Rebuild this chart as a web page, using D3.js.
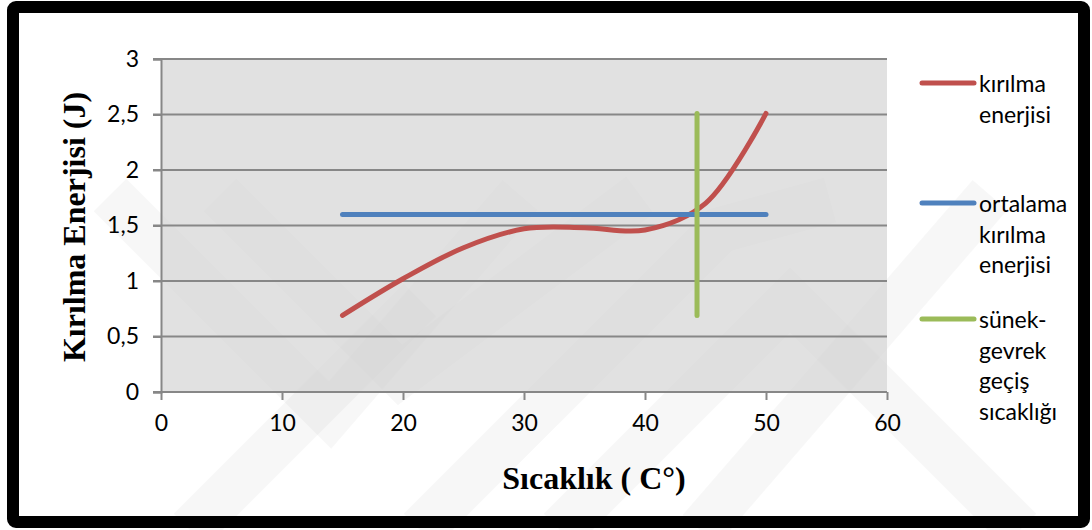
<html>
<head>
<meta charset="utf-8">
<style>
  body { margin: 0; background: #fff; }
  .tick text { font-family: Lato, "Open Sans", sans-serif; font-size: 23px; fill: #000; }
  .legend text { font-family: Lato, "Open Sans", sans-serif; font-size: 23px; fill: #000; }
  .title { font-family: "Liberation Serif", "Times New Roman", serif; font-weight: bold; font-size: 32px; fill: #000; }
</style>
</head>
<body>
<script src="https://cdn.jsdelivr.net/npm/d3@7"></script>
<script>
// data
var temps    = [15, 20, 25, 30, 35, 40, 45, 50];
var energy   = [0.69, 1.02, 1.30, 1.47, 1.48, 1.46, 1.70, 2.51];
var meanTemps  = [15, 50];
var meanEnergy = [1.6, 1.6];
var transTemps  = [44.3, 44.3];
var transEnergy = [0.69, 2.51];
var xTicks = [0, 10, 20, 30, 40, 50, 60];
var yTicks = [0, 0.5, 1, 1.5, 2, 2.5, 3];
var seriesNames = [["kırılma", "enerjisi"], ["ortalama", "kırılma", "enerjisi"], ["sünek-", "gevrek", "geçiş", "sıcaklığı"]];
var colors = ["#c0504d", "#4f81bd", "#9bbb59"];

var svg = d3.select("body").append("svg")
  .attr("width", 1092)
  .attr("height", 530);

// watermark, very faint
var wm = svg.append("g").attr("fill", "none").attr("stroke", "#000").attr("stroke-opacity", 0.03)
  .attr("stroke-width", 46).attr("stroke-linejoin", "miter");
[
  [[110, 195], [330, 415], [520, 195]],
  [[220, 195], [400, 375], [640, 195]],
  [[190, 530], [420, 300]],
  [[560, 530], [790, 300], [1020, 530]],
  [[420, 530], [720, 230], [830, 200]],
  [[700, 530], [990, 195]]
].forEach(function(p) { wm.append("path").attr("d", d3.line()(p)); });

var x = d3.scaleLinear().domain([0, 60]).range([161, 887]);
var y = d3.scaleLinear().domain([0, 3]).range([392, 59]);

// plot background
svg.append("rect")
  .attr("x", x(0)).attr("y", y(3))
  .attr("width", x(60) - x(0)).attr("height", y(0) - y(3))
  .attr("fill", "#d4d4d4").attr("fill-opacity", 0.7);

// gridlines
svg.append("g").selectAll("line")
  .data(yTicks).enter().append("line")
  .attr("x1", x(0) - 8).attr("x2", x(60))
  .attr("y1", function(d) { return y(d); }).attr("y2", function(d) { return y(d); })
  .attr("stroke", "#878787").attr("stroke-width", 2);

var fmt = function(d) { return String(d).replace(".", ","); };

var yAxis = svg.append("g")
  .attr("transform", "translate(" + x(0) + ",0)")
  .call(d3.axisLeft(y).tickValues(yTicks).tickSize(8).tickPadding(14).tickFormat(fmt));
var xAxis = svg.append("g")
  .attr("transform", "translate(0," + y(0) + ")")
  .call(d3.axisBottom(x).tickValues(xTicks).tickSize(8).tickPadding(15).tickFormat(fmt));
[yAxis, xAxis].forEach(function(g) {
  g.selectAll("path.domain").attr("stroke", "#878787").attr("stroke-width", 2);
  g.selectAll(".tick line").attr("stroke", "#878787").attr("stroke-width", 2);
  g.attr("font-family", null).attr("font-size", null);
});
xAxis.select("path.domain").remove();

// series
var line = d3.line()
  .x(function(d) { return x(d[0]); })
  .y(function(d) { return y(d[1]); });

svg.append("path")
  .datum(d3.zip(temps, energy))
  .attr("d", line.curve(d3.curveCatmullRom.alpha(0.5)))
  .attr("fill", "none").attr("stroke", colors[0]).attr("stroke-width", 5).attr("stroke-linecap", "round");

line.curve(d3.curveLinear);
svg.append("path")
  .datum(d3.zip(meanTemps, meanEnergy))
  .attr("d", line)
  .attr("fill", "none").attr("stroke", colors[1]).attr("stroke-width", 5).attr("stroke-linecap", "round");

svg.append("path")
  .datum(d3.zip(transTemps, transEnergy))
  .attr("d", line)
  .attr("fill", "none").attr("stroke", colors[2]).attr("stroke-width", 5).attr("stroke-linecap", "round");

// legend
var legendTop = [92, 212, 328];
var legend = svg.append("g").attr("class", "legend");
seriesNames.forEach(function(names, i) {
  legend.append("line")
    .attr("x1", 922).attr("x2", 974)
    .attr("y1", legendTop[i] - 9).attr("y2", legendTop[i] - 9)
    .attr("stroke", colors[i]).attr("stroke-width", 5).attr("stroke-linecap", "round");
  var t = legend.append("text").attr("x", 979).attr("y", legendTop[i]);
  names.forEach(function(n, k) {
    t.append("tspan").attr("x", 979).attr("y", legendTop[i] + k * 30.5).text(n);
  });
});

// axis titles
svg.append("text").attr("class", "title")
  .attr("x", 594).attr("y", 489)
  .attr("text-anchor", "middle")
  .text("Sıcaklık ( C°)");

svg.append("text").attr("class", "title")
  .attr("transform", "translate(85,227) rotate(-90)")
  .attr("text-anchor", "middle")
  .text("Kırılma Enerjisi (J)");

// frame
svg.append("rect")
  .attr("x", 13).attr("y", 7).attr("width", 1071).attr("height", 515)
  .attr("rx", 3)
  .attr("fill", "none").attr("stroke", "#000").attr("stroke-width", 12);
</script>
</body>
</html>
